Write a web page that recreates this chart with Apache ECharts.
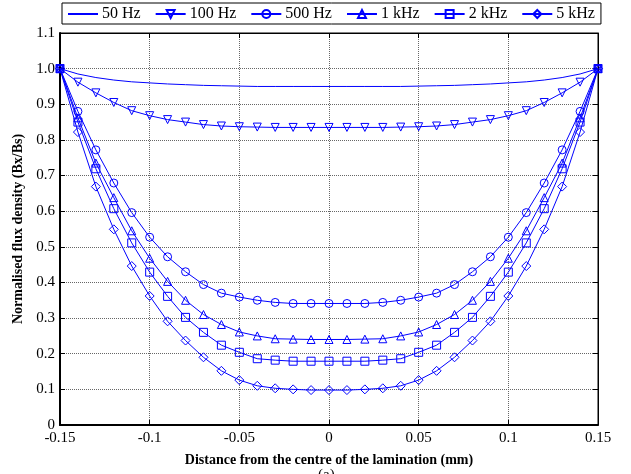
<!DOCTYPE html>
<html>
<head>
<meta charset="utf-8">
<script src="https://cdn.jsdelivr.net/npm/echarts@6/dist/echarts.min.js"></script>
<style>
  html, body { margin: 0; padding: 0; background: #fff; }
  #chart { width: 631px; height: 474px; }
</style>
</head>
<body>
<div id="chart"></div>
<script>
// distance from centre (mm), 0.01 steps
const xs = [-0.15, -0.14, -0.13, -0.12, -0.11, -0.10, -0.09, -0.08, -0.07, -0.06, -0.05, -0.04, -0.03, -0.02, -0.01, 0,
  0.01, 0.02, 0.03, 0.04, 0.05, 0.06, 0.07, 0.08, 0.09, 0.10, 0.11, 0.12, 0.13, 0.14, 0.15];

const seriesNames = ['50 Hz', '100 Hz', '500 Hz', '1 kHz', '2 kHz', '5 kHz'];

const b50 = [1.0, 0.985, 0.975, 0.968, 0.963, 0.960, 0.957, 0.955, 0.953, 0.952, 0.951, 0.950, 0.950, 0.950, 0.950, 0.950,
  0.950, 0.950, 0.950, 0.950, 0.951, 0.952, 0.953, 0.955, 0.957, 0.960, 0.963, 0.968, 0.975, 0.985, 1.0];
const b100 = [1.0, 0.962, 0.932, 0.905, 0.882, 0.868, 0.857, 0.850, 0.843, 0.839, 0.837, 0.836, 0.835, 0.835, 0.835, 0.835,
  0.835, 0.835, 0.835, 0.836, 0.837, 0.839, 0.843, 0.850, 0.857, 0.868, 0.882, 0.905, 0.932, 0.962, 1.0];
const b500 = [1.0, 0.880, 0.772, 0.679, 0.596, 0.527, 0.472, 0.430, 0.394, 0.370, 0.359, 0.350, 0.344, 0.341, 0.341, 0.341,
  0.341, 0.341, 0.344, 0.350, 0.359, 0.370, 0.394, 0.430, 0.472, 0.527, 0.596, 0.679, 0.772, 0.880, 1.0];
const b1k = [1.0, 0.862, 0.735, 0.638, 0.545, 0.468, 0.403, 0.350, 0.310, 0.282, 0.261, 0.250, 0.242, 0.241, 0.240, 0.240,
  0.240, 0.241, 0.242, 0.250, 0.261, 0.282, 0.310, 0.350, 0.403, 0.468, 0.545, 0.638, 0.735, 0.862, 1.0];
const b2k = [1.0, 0.850, 0.719, 0.607, 0.511, 0.429, 0.361, 0.302, 0.260, 0.224, 0.204, 0.186, 0.182, 0.179, 0.179, 0.179,
  0.179, 0.179, 0.182, 0.186, 0.204, 0.224, 0.260, 0.302, 0.361, 0.429, 0.511, 0.607, 0.719, 0.850, 1.0];
const b5k = [1.0, 0.822, 0.669, 0.549, 0.446, 0.362, 0.291, 0.237, 0.190, 0.152, 0.126, 0.110, 0.103, 0.100, 0.098, 0.098,
  0.098, 0.100, 0.103, 0.110, 0.126, 0.152, 0.190, 0.237, 0.291, 0.362, 0.446, 0.549, 0.669, 0.822, 1.0];

const yTicks = ['0', '0.1', '0.2', '0.3', '0.4', '0.5', '0.6', '0.7', '0.8', '0.9', '1.0', '1.1'];

const allData = [b50, b100, b500, b1k, b2k, b5k];
const symbols = ['none', 'triangle', 'circle', 'triangle', 'rect', 'diamond'];
const rotations = [0, 180, 0, 0, 0, 0];
const sizes = [0, 8, 8, 8, 8, 9];

const blue = '#0000ff';
const serif = 'Liberation Serif';

const chart = echarts.init(document.getElementById('chart'));

let series = [];
for (let i = 0; i < seriesNames.length; i++) {
  series.push({
    name: seriesNames[i],
    type: 'line',
    data: xs.map((x, j) => [x, allData[i][j]]),
    symbol: symbols[i],
    symbolSize: sizes[i],
    symbolRotate: rotations[i],
    showSymbol: i > 0,
    lineStyle: { color: blue, width: 1 },
    itemStyle: { color: 'rgba(255,255,255,0)', borderColor: blue, borderWidth: 1 },
    emphasis: { disabled: true }
  });
}

// legend entries; the 50 Hz one is a plain line
let legendData = seriesNames.map((n, i) => i === 0
  ? { name: n, itemStyle: { opacity: 0 } }
  : { name: n });

const inTick = { show: true, inside: true, length: 5, lineStyle: { color: '#000', width: 1 } };
const gridLine = { show: true, lineStyle: { color: '#666', type: 'dotted', width: 1 } };

let options = {
  animation: false,
  textStyle: { fontFamily: serif },
  legend: {
    left: 62,
    top: 3,
    width: 545,
    itemWidth: 30,
    itemHeight: 10,
    itemGap: 14,
    padding: [3, 6, 2, 5],
    borderColor: '#000',
    borderWidth: 1,
    backgroundColor: '#fff',
    textStyle: { fontFamily: serif, fontSize: 16, color: '#000', padding: [0, 0, 0, -1] },
    data: legendData
  },
  grid: { left: 60, right: 33, top: 33, bottom: 49, show: true, borderColor: '#000', borderWidth: 1 },
  xAxis: [{
    type: 'value',
    min: -0.15,
    max: 0.15,
    interval: 0.05,
    axisLine: { show: true, onZero: false, lineStyle: { color: '#000', width: 2 } },
    axisTick: inTick,
    splitLine: gridLine,
    axisLabel: {
      color: '#000', fontSize: 15, fontFamily: serif, margin: 6,
      formatter: v => String(Math.round(v * 100) / 100)
    },
    name: 'Distance from the centre of the lamination (mm)',
    nameLocation: 'middle',
    nameGap: 28,
    nameTextStyle: { color: '#000', fontWeight: 'bold', fontSize: 14, fontFamily: serif }
  }, {
    type: 'value',
    position: 'top',
    min: -0.15,
    max: 0.15,
    interval: 0.05,
    axisLine: { show: true, onZero: false, lineStyle: { color: '#000', width: 1 } },
    axisTick: inTick,
    axisLabel: { show: false },
    splitLine: { show: false }
  }],
  yAxis: [{
    type: 'value',
    min: 0,
    max: 1.1,
    interval: 0.1,
    axisLine: { show: true, onZero: false, lineStyle: { color: '#000', width: 2 } },
    axisTick: inTick,
    splitLine: gridLine,
    axisLabel: {
      color: '#000', fontSize: 15, fontFamily: serif, margin: 5,
      formatter: v => yTicks[Math.round(v * 10)]
    },
    name: 'Normalised flux density (Bx/Bs)',
    nameLocation: 'middle',
    nameGap: 33,
    nameTextStyle: { color: '#000', fontWeight: 'bold', fontSize: 14, fontFamily: serif }
  }, {
    type: 'value',
    position: 'right',
    min: 0,
    max: 1.1,
    interval: 0.1,
    axisLine: { show: true, onZero: false, lineStyle: { color: '#000', width: 1 } },
    axisTick: inTick,
    axisLabel: { show: false },
    splitLine: { show: false }
  }],
  graphic: [{
    type: 'text',
    left: 318,
    top: 468,
    style: { text: '(a)', font: '15px "Liberation Serif"', fill: '#000' }
  }],
  series: series
};

chart.setOption(options);
</script>
</body>
</html>
